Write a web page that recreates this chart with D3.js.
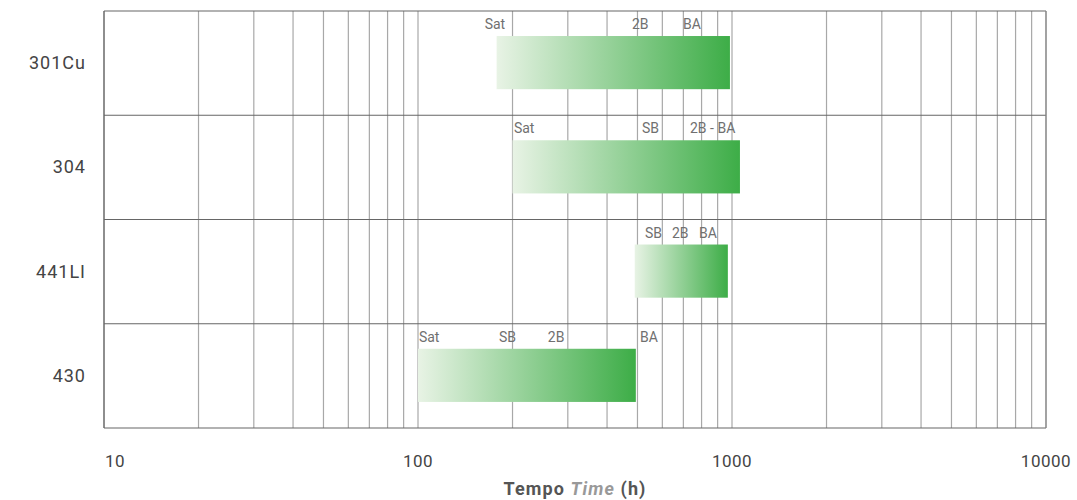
<!DOCTYPE html>
<html><head><meta charset="utf-8">
<script src="https://cdn.jsdelivr.net/npm/d3@7"></script>
<style>body{margin:0;background:#fff}svg{display:block;font-family:Roboto,"DejaVu Sans",sans-serif}</style>
</head><body><svg id="c" width="1077" height="500"></svg>
<script>
const categories = ["301Cu", "304", "441LI", "430"];
const barStart = [178, 200, 490, 100];
const barEnd = [985, 1060, 970, 494];
const stageLabels = [
  ["Sat", "2B", "BA"],
  ["Sat", "SB", "2B - BA"],
  ["SB", "2B", "BA"],
  ["Sat", "SB", "2B", "BA"]
];
const stageValues = [
  [163, 480, 698],
  [202, 517, 735],
  [528, 644, 785],
  [100.7, 181, 259, 509]
];
const tickValues = [10, 100, 1000, 10000];
const tickLabels = ["10", "100", "1000", "10000"];

const svg = d3.select("#c");
const m = {l:104, r:1046, t:11, b:428};
const x = d3.scaleLog().domain([10, 10000]).range([m.l, m.r]);
const y = d3.scaleBand().domain(categories).range([m.t, m.b]).paddingInner(0).paddingOuter(0);

const defs = svg.append("defs");
const g = defs.append("linearGradient").attr("id","grad").attr("x1","0").attr("x2","1").attr("y1","0").attr("y2","0");
g.append("stop").attr("offset","0").attr("stop-color","#e8f3e5");
g.append("stop").attr("offset","1").attr("stop-color","#3dad47");

// vertical grid
const minor = [];
for (let d = 10; d < 10000; d *= 10) for (let k = 1; k < 10; k++) minor.push(d*k);
minor.push(10000);
svg.append("g").selectAll("line").data(minor).join("line")
  .attr("x1", d => x(d)).attr("x2", d => x(d))
  .attr("y1", m.t).attr("y2", m.b)
  .attr("stroke", "#a8a8a8").attr("stroke-width", 1.2);

// horizontal row lines
const bounds = categories.map(c => y(c)).concat([m.b]);
svg.append("g").selectAll("line").data(bounds).join("line")
  .attr("x1", m.l).attr("x2", m.r)
  .attr("y1", d => d).attr("y2", d => d)
  .attr("stroke", "#666").attr("stroke-width", 1.2);
svg.append("line").attr("x1", m.l).attr("x2", m.l).attr("y1", m.t).attr("y2", m.b).attr("stroke","#666").attr("stroke-width",1.2);
svg.append("line").attr("x1", m.r).attr("x2", m.r).attr("y1", m.t).attr("y2", m.b).attr("stroke","#888").attr("stroke-width",1.2);

// bars
const bh = y.bandwidth();
svg.append("g").selectAll("rect").data(categories).join("rect")
  .attr("x", (d,i) => x(barStart[i]))
  .attr("width", (d,i) => x(barEnd[i]) - x(barStart[i]))
  .attr("y", d => y(d) + bh*0.24)
  .attr("height", bh*0.51)
  .attr("fill", "url(#grad)");

// stage labels
categories.forEach((c,i) => {
  svg.append("g").selectAll("text").data(stageLabels[i]).join("text")
    .attr("x", (d,j) => x(stageValues[i][j]))
    .attr("y", y(c) + 18)
    .attr("font-size", 14).attr("fill", "#707070")
    .text(d => d);
});

// category labels
svg.append("g").selectAll("text").data(categories).join("text")
  .attr("x", 86).attr("y", d => y(d) + bh/2 + 6)
  .attr("text-anchor", "end").attr("font-size", 18).attr("letter-spacing", 1).attr("fill", "#444")
  .text(d => d);

// x tick labels
svg.append("g").selectAll("text").data(tickValues).join("text")
  .attr("x", (d,i) => i === 0 ? x(d) + 1 : x(d))
  .attr("y", 467)
  .attr("text-anchor", (d,i) => i === 0 ? "start" : "middle")
  .attr("font-size", 17).attr("letter-spacing", 0.5).attr("fill", "#444")
  .text((d,i) => tickLabels[i]);

// axis title
const t = svg.append("text").attr("x", (m.l+m.r)/2).attr("y", 495)
  .attr("text-anchor","middle").attr("font-size",18).attr("letter-spacing",1.1).attr("font-weight","bold").attr("fill","#555");
t.append("tspan").text("Tempo ");
t.append("tspan").attr("font-style","italic").attr("fill","#999").text("Time");
t.append("tspan").text(" (h)");
</script></body></html>
